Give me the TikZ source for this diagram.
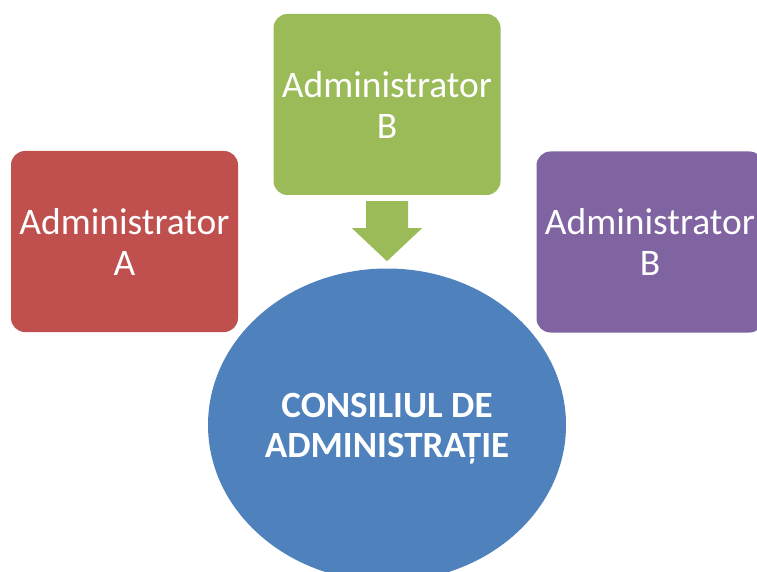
\documentclass[tikz,border=0pt]{standalone}
\usepackage{fontspec}
\setmainfont{Carlito}
\usetikzlibrary{shapes.geometric,calc}
\definecolor{adminred}{HTML}{C0504D}
\definecolor{admingreen}{HTML}{9BBB59}
\definecolor{adminpurple}{HTML}{8064A2}
\definecolor{councilblue}{HTML}{4F81BD}
\begin{document}
\begin{tikzpicture}[x=1pt,y=-1pt,
  adminbox/.style={rounded corners=14pt, minimum width=227pt, minimum height=181pt,
    inner sep=0pt, align=center, text=white, font=\fontsize{37.5}{41}\selectfont},
  council/.style={ellipse, fill=councilblue, minimum width=358pt, minimum height=313pt,
    inner sep=0pt},
  counciltext/.style={inner sep=0pt, align=center, text=white,
    font=\fontsize{37}{40}\selectfont\bfseries},
  downarrow/.style={fill=admingreen}]
\useasboundingbox (0,0) rectangle (757,572);
\clip (0,0) rectangle (757,572);
\node[adminbox, fill=adminred] (a) at (124.5,241.5) {Administrator\\A};
\node[adminbox, fill=admingreen] (b) at (387,104.5) {Administrator\\B};
\node[adminbox, fill=adminpurple] (c) at (650,242) {Administrator\\B};
\node[council] (d) at (387,425) {};
\node[counciltext] (dt) at ($(d.center)+(0,4)$) {CONSILIUL DE\\ADMINISTRAȚIE};
\coordinate (t) at ($(b.south)+(0,66)$);
\fill[downarrow] ($(b.south)+(-21,6)$) -- ($(b.south)+(21,6)$) -- ($(b.south)+(21,33)$)
  -- ($(b.south)+(35,33)$) -- (t) -- ($(b.south)+(-35,33)$) -- ($(b.south)+(-21,33)$) -- cycle;
\end{tikzpicture}
\end{document}
